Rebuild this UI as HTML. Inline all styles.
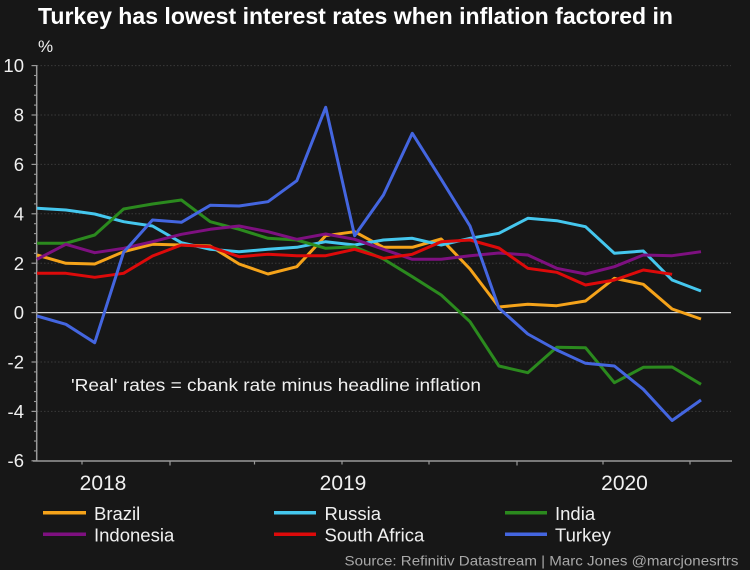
<!DOCTYPE html>
<html>
<head>
<meta charset="utf-8">
<style>
  html, body { margin: 0; padding: 0; background: #171717; }
  svg { display: block; }
  text { font-family: "Liberation Sans", Arial, sans-serif; }
</style>
</head>
<body>
<svg width="750" height="570" viewBox="0 0 750 570" xmlns="http://www.w3.org/2000/svg">
  <rect x="0" y="0" width="750" height="570" fill="#171717"/>

  <!-- Title -->
  <text x="38" y="24" font-size="23" font-weight="bold" fill="#ffffff" textLength="635" lengthAdjust="spacingAndGlyphs">Turkey has lowest interest rates when inflation factored in</text>
  <text x="38" y="52" font-size="17" fill="#f0f0f0">%</text>

  <!-- Gridlines -->
  <g stroke="#3a3a3a" stroke-width="1" stroke-dasharray="1.5,2">
    <line x1="37" y1="65.6" x2="731" y2="65.6"/>
    <line x1="37" y1="115" x2="731" y2="115"/>
    <line x1="37" y1="164.4" x2="731" y2="164.4"/>
    <line x1="37" y1="213.8" x2="731" y2="213.8"/>
    <line x1="37" y1="263.2" x2="731" y2="263.2"/>
    <line x1="37" y1="362" x2="731" y2="362"/>
    <line x1="37" y1="411.4" x2="731" y2="411.4"/>
  </g>

  <!-- Zero line -->
  <line x1="37" y1="312.6" x2="731" y2="312.6" stroke="#d8d8d8" stroke-width="1.3"/>

  <!-- Left axis -->
  <line x1="36.7" y1="65" x2="36.7" y2="461" stroke="#9a9a9a" stroke-width="1.5"/>
  <g stroke="#9a9a9a" stroke-width="1.2" id="ticks">
    <!-- major ticks -->
    <line x1="31.5" y1="65.6" x2="36.7" y2="65.6"/>
    <line x1="31.5" y1="115" x2="36.7" y2="115"/>
    <line x1="31.5" y1="164.4" x2="36.7" y2="164.4"/>
    <line x1="31.5" y1="213.8" x2="36.7" y2="213.8"/>
    <line x1="31.5" y1="263.2" x2="36.7" y2="263.2"/>
    <line x1="31.5" y1="312.6" x2="36.7" y2="312.6"/>
    <line x1="31.5" y1="362" x2="36.7" y2="362"/>
    <line x1="31.5" y1="411.4" x2="36.7" y2="411.4"/>
    <line x1="31.5" y1="460.8" x2="36.7" y2="460.8"/>
  </g>
  <g stroke="#9a9a9a" stroke-width="1.1">
    <!-- minor ticks every 0.4 units (9.88px) -->
    <line x1="34" y1="75.5" x2="36.7" y2="75.5"/><line x1="34" y1="85.4" x2="36.7" y2="85.4"/><line x1="34" y1="95.2" x2="36.7" y2="95.2"/><line x1="34" y1="105.1" x2="36.7" y2="105.1"/>
    <line x1="34" y1="124.9" x2="36.7" y2="124.9"/><line x1="34" y1="134.8" x2="36.7" y2="134.8"/><line x1="34" y1="144.6" x2="36.7" y2="144.6"/><line x1="34" y1="154.5" x2="36.7" y2="154.5"/>
    <line x1="34" y1="174.3" x2="36.7" y2="174.3"/><line x1="34" y1="184.2" x2="36.7" y2="184.2"/><line x1="34" y1="194" x2="36.7" y2="194"/><line x1="34" y1="203.9" x2="36.7" y2="203.9"/>
    <line x1="34" y1="223.7" x2="36.7" y2="223.7"/><line x1="34" y1="233.6" x2="36.7" y2="233.6"/><line x1="34" y1="243.4" x2="36.7" y2="243.4"/><line x1="34" y1="253.3" x2="36.7" y2="253.3"/>
    <line x1="34" y1="273.1" x2="36.7" y2="273.1"/><line x1="34" y1="283" x2="36.7" y2="283"/><line x1="34" y1="292.8" x2="36.7" y2="292.8"/><line x1="34" y1="302.7" x2="36.7" y2="302.7"/>
    <line x1="34" y1="322.5" x2="36.7" y2="322.5"/><line x1="34" y1="332.4" x2="36.7" y2="332.4"/><line x1="34" y1="342.2" x2="36.7" y2="342.2"/><line x1="34" y1="352.1" x2="36.7" y2="352.1"/>
    <line x1="34" y1="371.9" x2="36.7" y2="371.9"/><line x1="34" y1="381.8" x2="36.7" y2="381.8"/><line x1="34" y1="391.6" x2="36.7" y2="391.6"/><line x1="34" y1="401.5" x2="36.7" y2="401.5"/>
    <line x1="34" y1="421.3" x2="36.7" y2="421.3"/><line x1="34" y1="431.2" x2="36.7" y2="431.2"/><line x1="34" y1="441" x2="36.7" y2="441"/><line x1="34" y1="450.9" x2="36.7" y2="450.9"/>
  </g>

  <!-- Y labels -->
  <g font-size="18.5" fill="#f0f0f0" text-anchor="end">
    <text x="24" y="72">10</text>
    <text x="24" y="121.5">8</text>
    <text x="24" y="171">6</text>
    <text x="24" y="220.5">4</text>
    <text x="24" y="270">2</text>
    <text x="24" y="319">0</text>
    <text x="24" y="368.5">-2</text>
    <text x="24" y="418">-4</text>
    <text x="24" y="467">-6</text>
  </g>

  <!-- Bottom axis -->
  <line x1="33" y1="461" x2="732" y2="461" stroke="#9a9a9a" stroke-width="1.5"/>
  <g stroke="#9a9a9a" stroke-width="1.2">
    <line x1="82" y1="461" x2="82" y2="464.5"/>
    <line x1="170" y1="461" x2="170" y2="465.5"/>
    <line x1="254.5" y1="461" x2="254.5" y2="464.5"/>
    <line x1="342" y1="461" x2="342" y2="464.5"/>
    <line x1="429" y1="461" x2="429" y2="464.5"/>
    <line x1="517" y1="461" x2="517" y2="465.5"/>
    <line x1="603" y1="461" x2="603" y2="464.5"/>
    <line x1="690" y1="461" x2="690" y2="464.5"/>
  </g>

  <!-- X labels -->
  <g font-size="21" fill="#f0f0f0" text-anchor="middle">
    <text x="103" y="490">2018</text>
    <text x="343" y="490">2019</text>
    <text x="624.5" y="490">2020</text>
  </g>

  <!-- Annotation -->
  <text x="71" y="391" font-size="17.5" fill="#f0f0f0" textLength="410" lengthAdjust="spacingAndGlyphs">'Real' rates = cbank rate minus headline inflation</text>

  <!-- Series -->
  <g fill="none" stroke-width="3" stroke-linejoin="round" stroke-linecap="butt">
    <!-- Brazil -->
    <polyline stroke="#f5a31a" points="37,255 65.9,263.3 94.7,264 123.6,251.7 152.5,244.3 181.4,245 210.2,246 239.1,264 268,274 296.8,266.7 325.7,235.7 354.6,231.7 383.4,247.3 412.3,247.3 441.2,239 470,269 498.9,307 527.8,304.3 556.7,305.7 585.5,301 614.4,278.3 643.3,284.3 672.1,309 701,319"/>
    <!-- Russia -->
    <polyline stroke="#45c7ee" points="37,208.3 65.9,210 94.7,214 123.6,221.7 152.5,226 181.4,242.7 210.2,249.3 239.1,251.7 268,249.3 296.8,247.3 325.7,241.7 354.6,245 383.4,240 412.3,238.3 441.2,245 470,238.3 498.9,233.3 527.8,218.3 556.7,220.7 585.5,226.7 614.4,253.3 643.3,251 672.1,280 701,291"/>
    <!-- India -->
    <polyline stroke="#2b8a1e" points="37,243.3 65.9,243.3 94.7,235 123.6,209 152.5,204 181.4,200 210.2,221.7 239.1,229.3 268,238.3 296.8,240 325.7,248.3 354.6,246.7 383.4,259 412.3,276.7 441.2,295 470,321.7 498.9,366 527.8,372.7 556.7,347.3 585.5,347.7 614.4,382.7 643.3,367.3 672.1,367 701,384.3"/>
    <!-- Indonesia -->
    <polyline stroke="#7e1080" points="37,259.3 65.9,244.3 94.7,252.7 123.6,248.3 152.5,241.7 181.4,234.3 210.2,229.3 239.1,226 268,231.7 296.8,239.3 325.7,234 354.6,239.3 383.4,249.3 412.3,259.3 441.2,259.3 470,255.7 498.9,253 527.8,255 556.7,268.3 585.5,274 614.4,266.7 643.3,255 672.1,255.7 701,251.7"/>
    <!-- South Africa -->
    <polyline stroke="#dd0a0a" points="37,273.3 65.9,273.3 94.7,277.3 123.6,273.3 152.5,256 181.4,245 210.2,246.7 239.1,256.7 268,254.2 296.8,255.7 325.7,255.7 354.6,249.3 383.4,258.3 412.3,254.3 441.2,241.7 470,240 498.9,248 527.8,268.3 556.7,272.3 585.5,285 614.4,280 643.3,270 672.1,274.3"/>
    <!-- Turkey -->
    <polyline stroke="#4466e0" points="37,316 65.9,324.3 94.7,342.7 123.6,252.3 152.5,220 181.4,222.3 210.2,205.3 239.1,206 268,201.7 296.8,180.7 325.7,107.3 354.6,235.7 383.4,195 412.3,133.3 441.2,179.3 470,226 498.9,308 527.8,334 556.7,350 585.5,363.3 614.4,366 643.3,389.3 672.1,420.5 701,400"/>
  </g>

  <!-- Legend -->
  <g stroke-width="3.5">
    <line x1="43" y1="512.7" x2="86" y2="512.7" stroke="#f5a31a"/>
    <line x1="274" y1="512.7" x2="316" y2="512.7" stroke="#45c7ee"/>
    <line x1="505" y1="512.7" x2="547" y2="512.7" stroke="#2b8a1e"/>
    <line x1="43" y1="534.3" x2="86" y2="534.3" stroke="#7e1080"/>
    <line x1="274" y1="534.3" x2="316" y2="534.3" stroke="#dd0a0a"/>
    <line x1="505" y1="534.3" x2="547" y2="534.3" stroke="#4466e0"/>
  </g>
  <g font-size="18.5" fill="#f0f0f0">
    <text x="94" y="520">Brazil</text>
    <text x="324.5" y="520">Russia</text>
    <text x="555" y="520">India</text>
    <text x="94" y="541.7">Indonesia</text>
    <text x="324.5" y="541.7">South Africa</text>
    <text x="555" y="541.7">Turkey</text>
  </g>

  <!-- Source -->
  <text x="344.5" y="565.5" font-size="14" fill="#a8a8a8" textLength="394" lengthAdjust="spacingAndGlyphs">Source: Refinitiv Datastream | Marc Jones @marcjonesrtrs</text>
</svg>
</body>
</html>
